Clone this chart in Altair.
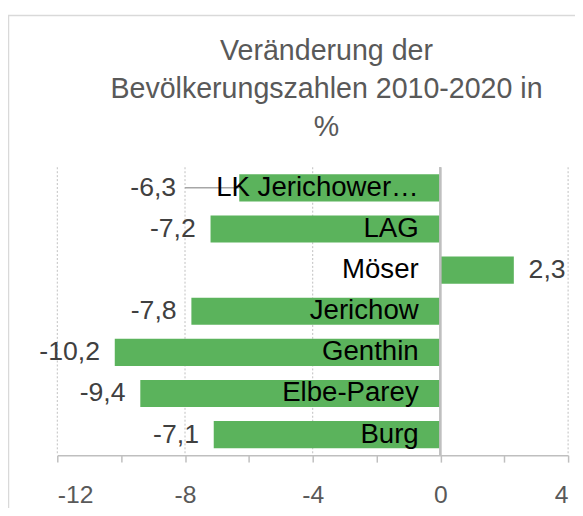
import altair as alt
import pandas as pd

categories = ["LK Jerichower Land", "LAG", "Möser", "Jerichow", "Genthin", "Elbe-Parey", "Burg"]
values = [-6.3, -7.2, 2.3, -7.8, -10.2, -9.4, -7.1]
tick_values = [-12, -10, -8, -6, -4, -2, 0, 2, 4]
grid_values = [-12, -8, -4, 4]
title_lines = ["Veränderung der", "Bevölkerungszahlen 2010-2020 in", "%"]

FONT = "Liberation Sans"
BAR = "#5BB35C"

# label for first row is pulled left with a leader line (category text overlaps the bar end)
leader_shift = {"LK Jerichower Land": 1.7}

rows = []
for c, v in zip(categories, values):
    shift = leader_shift.get(c, 0.0)
    rows.append({
        "cat": c,
        "val": v,
        "lbl": f"{v:.1f}".replace(".", ","),
        "lbl_x": v - shift,
        "leader": shift > 0,
        "neg": v < 0,
        "zero": 0,
    })
df = pd.DataFrame(rows)

y = alt.Y("cat:N", sort=categories, axis=None,
          scale=alt.Scale(paddingInner=0.34, paddingOuter=0.17))
xscale = alt.Scale(domain=[-12, 4], nice=False, zero=False)
xaxis = alt.Axis(values=tick_values, title=None, grid=False,
                 labelExpr="datum.value % 4 == 0 ? '' + datum.value : ''",
                 labelFont=FONT, labelFontSize=25, labelColor="#595959",
                 labelPadding=21, tickSize=7, tickColor="#BFBFBF",
                 domainColor="#BFBFBF", domainWidth=1.5, tickWidth=1.5)

base = alt.Chart(df)
one = alt.Data(values=[{"a": 1}])

border = alt.Chart(one).mark_rect(
    fill=None, stroke="#D9D9D9", strokeWidth=1.5
).encode(x=alt.value(-49.5), x2=alt.value(700), y=alt.value(-154), y2=alt.value(600))

title = alt.Chart(one).mark_text(
    text="\n".join(title_lines), lineBreak="\n", lineHeight=38.5, align="center",
    baseline="middle", font=FONT, fontSize=29, color="#595959"
).encode(x=alt.value(273), y=alt.value(-118))

grid = alt.Chart(pd.DataFrame({"g": grid_values})).mark_rule(
    color="#BFBFBF", strokeDash=[2, 2], strokeWidth=1
).encode(x=alt.X("g:Q", scale=xscale, axis=xaxis))

bars = base.mark_bar(color=BAR).encode(
    x=alt.X("val:Q", scale=xscale, axis=xaxis),
    x2="zero:Q",
    y=y,
)

zero = base.mark_rule(color="#BFBFBF", strokeWidth=1.5).encode(
    x=alt.X("zero:Q", scale=xscale, axis=xaxis)
)

leader = base.transform_filter("datum.leader").mark_rule(
    color="#A6A6A6", strokeWidth=1.5
).encode(x=alt.X("lbl_x:Q", scale=xscale, axis=xaxis), x2="val:Q",
         y=alt.Y("cat:N", sort=categories, axis=None, bandPosition=0.5))

neg_labels = base.transform_filter("datum.neg && !datum.leader").mark_text(
    align="right", baseline="middle", dx=-15, font=FONT, fontSize=27, color="#404040"
).encode(x=alt.X("lbl_x:Q", scale=xscale, axis=xaxis), y=y, text="lbl:N")

leader_labels = base.transform_filter("datum.leader").mark_text(
    align="right", baseline="middle", dx=-9, font=FONT, fontSize=27, color="#404040"
).encode(x=alt.X("lbl_x:Q", scale=xscale, axis=xaxis), y=y, text="lbl:N")

pos_labels = base.transform_filter("!datum.neg").mark_text(
    align="left", baseline="middle", dx=15, font=FONT, fontSize=27, color="#404040"
).encode(x=alt.X("lbl_x:Q", scale=xscale, axis=xaxis), y=y, text="lbl:N")

cat_labels = base.mark_text(
    align="right", baseline="middle", dx=-22, font=FONT, fontSize=28, color="#000000", limit=210
).encode(x=alt.X("zero:Q", scale=xscale, axis=xaxis), y=y, text="cat:N")

chart = alt.layer(
    border, title, grid, bars, zero, leader, neg_labels, leader_labels, pos_labels, cat_labels
).properties(
    width=518, height=292,
    padding={"left": 50, "top": 158, "right": 7, "bottom": 50},
    autosize=alt.AutoSizeParams(type="none"),
).configure_view(stroke=None)

chart.save("out.html", embed_options={"renderer": "svg", "actions": False})
